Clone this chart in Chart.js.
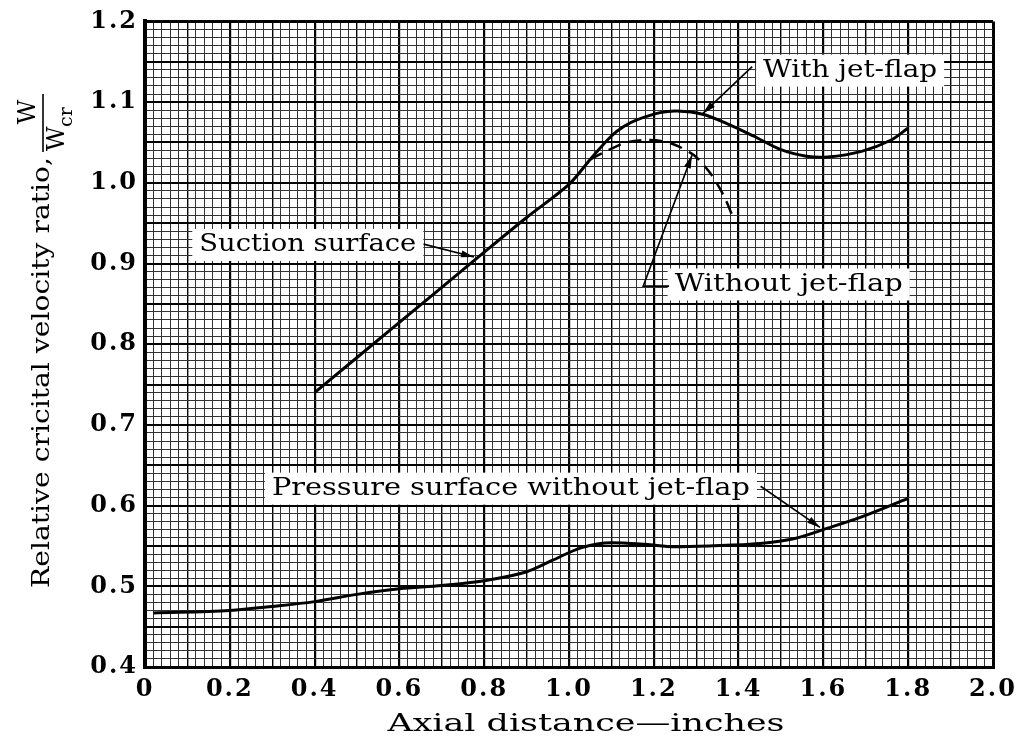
<!DOCTYPE html>
<html lang="en">
<head>
<meta charset="UTF-8">
<title>Relative critical velocity ratio</title>
<script src="https://cdn.jsdelivr.net/npm/chart.js"></script>
<style>
    body { margin: 0; background: #fff; }
    .wrap { width: 1022px; height: 748px; position: relative; }
</style>
</head>
<body>
<div class="wrap"><canvas id="chart"></canvas></div>
<script>
// suction surface with jet-flap (solid)
const suctionX = [0.40, 0.60, 0.80, 0.90, 1.00, 1.05, 1.10, 1.13, 1.16, 1.215, 1.255, 1.315, 1.37, 1.435, 1.50, 1.56, 1.61, 1.69, 1.76, 1.80];
const suctionY = [0.740, 0.827, 0.914, 0.957, 0.998, 1.029, 1.058, 1.070, 1.078, 1.087, 1.089, 1.085, 1.074, 1.058, 1.041, 1.033, 1.032, 1.039, 1.053, 1.068];
// suction surface without jet-flap (dashed)
const noFlapX = [1.05, 1.08, 1.135, 1.19, 1.24, 1.295, 1.333, 1.364, 1.388];
const noFlapY = [1.029, 1.037, 1.050, 1.053, 1.049, 1.034, 1.012, 0.985, 0.956];
// pressure surface without jet-flap
const pressureX = [0.02, 0.20, 0.30, 0.40, 0.50, 0.60, 0.70, 0.80, 0.90, 0.96, 1.03, 1.10, 1.18, 1.25, 1.33, 1.45, 1.53, 1.61, 1.69, 1.80];
const pressureY = [0.467, 0.470, 0.475, 0.481, 0.490, 0.497, 0.501, 0.507, 0.518, 0.532, 0.548, 0.554, 0.552, 0.549, 0.550, 0.553, 0.559, 0.572, 0.586, 0.609];

const xTickLabels = ['0', '0.2', '0.4', '0.6', '0.8', '1.0', '1.2', '1.4', '1.6', '1.8', '2.0'];
const yTickLabels = ['0.4', '0.5', '0.6', '0.7', '0.8', '0.9', '1.0', '1.1', '1.2'];

const SERIF = '"DejaVu Serif", "Liberation Serif", serif';
const pts = (xs, ys) => xs.map((x, i) => ({ x: x, y: ys[i] }));

// callout labels, placed in data units
const notes = [
    { text: 'With jet-flap', at: [1.663, 1.139], width: 174, leader: [[1.432, 1.144], [1.316, 1.086]] },
    { text: 'Without jet-flap', at: [1.518, 0.874], width: 228, leader: [[1.236, 0.872], [1.175, 0.872], [1.290, 1.034]] },
    { text: 'Suction surface', at: [0.384, 0.923], width: 217, leader: [[0.657, 0.924], [0.776, 0.908]] },
    { text: 'Pressure surface without jet-flap', at: [0.863, 0.621], width: 478, leader: [[1.452, 0.624], [1.592, 0.573]] }
];

function fitText(ctx, text, x, y, width, size, align) {
    ctx.font = 'normal ' + size + 'px ' + SERIF;
    const w = ctx.measureText(text).width;
    ctx.save();
    ctx.translate(x, y);
    ctx.scale(width / w, 1);
    ctx.textAlign = align || 'center';
    ctx.textBaseline = 'middle';
    ctx.fillText(text, 0, 0);
    ctx.restore();
}

function arrowHead(ctx, from, to) {
    const a = Math.atan2(to[1] - from[1], to[0] - from[0]);
    const len = 13, hw = 3.5;
    ctx.beginPath();
    ctx.moveTo(to[0], to[1]);
    ctx.lineTo(to[0] - len * Math.cos(a) + hw * Math.sin(a), to[1] - len * Math.sin(a) - hw * Math.cos(a));
    ctx.lineTo(to[0] - len * Math.cos(a) - hw * Math.sin(a), to[1] - len * Math.sin(a) + hw * Math.cos(a));
    ctx.closePath();
    ctx.fill();
}

const decorations = {
    id: 'decorations',
    beforeDraw(chart) {
        chart.ctx.letterSpacing = '2px';
    },
    afterDatasetsDraw(chart) {
        const ctx = chart.ctx;
        const xs = chart.scales.x, ys = chart.scales.y;
        const px = p => [xs.getPixelForValue(p[0]), ys.getPixelForValue(p[1])];
        ctx.save();
        ctx.letterSpacing = '0px';
        ctx.fillStyle = '#000';
        ctx.strokeStyle = '#000';
        notes.forEach(n => {
            const c = px(n.at);
            ctx.fillStyle = '#fff';
            ctx.fillRect(c[0] - n.width / 2 - 7, c[1] - 16, n.width + 14, 32);
            ctx.fillStyle = '#000';
            fitText(ctx, n.text, c[0], c[1], n.width, 25);
            const line = n.leader.map(px);
            ctx.lineWidth = 1.6;
            ctx.beginPath();
            line.forEach((p, i) => i ? ctx.lineTo(p[0], p[1]) : ctx.moveTo(p[0], p[1]));
            ctx.stroke();
            arrowHead(ctx, line[line.length - 2], line[line.length - 1]);
        });

        // x axis title
        fitText(ctx, 'Axial distance\u2014inches', 586, 725, 397, 24);

        // y axis title with the W / Wcr fraction
        ctx.save();
        ctx.translate(43, 588);
        ctx.rotate(-Math.PI / 2);
        fitText(ctx, 'Relative cricital velocity ratio,', 0, 0, 431, 24, 'left');
        ctx.lineWidth = 1.6;
        ctx.beginPath();
        ctx.moveTo(436, 0);
        ctx.lineTo(494, 0);
        ctx.stroke();
        ctx.font = 'normal 24px ' + SERIF;
        ctx.textAlign = 'center';
        ctx.textBaseline = 'middle';
        ctx.fillText('W', 476, -14);
        ctx.textAlign = 'left';
        ctx.fillText('W', 437, 15);
        ctx.font = 'normal 19px ' + SERIF;
        ctx.fillText('cr', 461, 24);
        ctx.restore();

        ctx.restore();
    },
    afterDraw(chart) {
        chart.ctx.letterSpacing = '0px';
    }
};

const xGridWidth = c => {
    const k = Math.round(c.tick.value * 100);
    if (k === 0 || k === 200) return 3;
    return k % 20 === 0 ? 2.2 : (k % 10 === 0 ? 1.4 : 1);
};
const yGridWidth = c => {
    const k = Math.round(c.tick.value * 100);
    if (k === 40 || k === 120) return 3;
    return k % 5 === 0 ? 2 : 1;
};

new Chart(document.getElementById('chart'), {
    type: 'line',
    data: {
        datasets: [
            {
                label: 'With jet-flap',
                data: pts(suctionX, suctionY),
                borderColor: '#000',
                borderWidth: 3,
                pointRadius: 0,
                tension: 0.3
            },
            {
                label: 'Without jet-flap',
                data: pts(noFlapX, noFlapY),
                borderColor: '#000',
                borderWidth: 2.5,
                borderDash: [13, 8],
                pointRadius: 0,
                tension: 0.3
            },
            {
                label: 'Pressure surface without jet-flap',
                data: pts(pressureX, pressureY),
                borderColor: '#000',
                borderWidth: 3,
                pointRadius: 0,
                cubicInterpolationMode: 'monotone'
            }
        ]
    },
    options: {
        responsive: true,
        maintainAspectRatio: false,
        animation: false,
        layout: { padding: { top: 20, right: 29, left: 0, bottom: 0 } },
        plugins: {
            legend: { display: false },
            tooltip: { enabled: false }
        },
        scales: {
            x: {
                type: 'linear',
                min: 0,
                max: 2,
                afterFit: s => { s.height = 81; },
                border: { display: true, color: '#000', width: 3 },
                grid: {
                    drawTicks: false,
                    lineWidth: xGridWidth,
                    color: c => xGridWidth(c) > 1 ? '#000' : '#333'
                },
                ticks: {
                    stepSize: 0.02,
                    maxTicksLimit: 1000,
                    autoSkip: false,
                    maxRotation: 0,
                    padding: 8,
                    color: '#000',
                    font: { family: SERIF, size: 24, weight: 'bold' },
                    callback: v => {
                        const k = Math.round(v * 100);
                        return k % 20 === 0 ? xTickLabels[k / 20] : '';
                    }
                }
            },
            y: {
                type: 'linear',
                min: 0.4,
                max: 1.2,
                afterFit: s => { s.width = 145; },
                border: { display: true, color: '#000', width: 4 },
                grid: {
                    drawTicks: false,
                    lineWidth: yGridWidth,
                    color: c => yGridWidth(c) > 1 ? '#000' : '#333'
                },
                ticks: {
                    stepSize: 0.01,
                    maxTicksLimit: 1000,
                    autoSkip: false,
                    padding: 7,
                    color: '#000',
                    font: { family: SERIF, size: 24, weight: 'bold' },
                    callback: v => {
                        const k = Math.round(v * 100);
                        return k % 10 === 0 ? yTickLabels[(k - 40) / 10] : '';
                    }
                }
            }
        }
    },
    plugins: [decorations]
});
</script>
</body>
</html>
